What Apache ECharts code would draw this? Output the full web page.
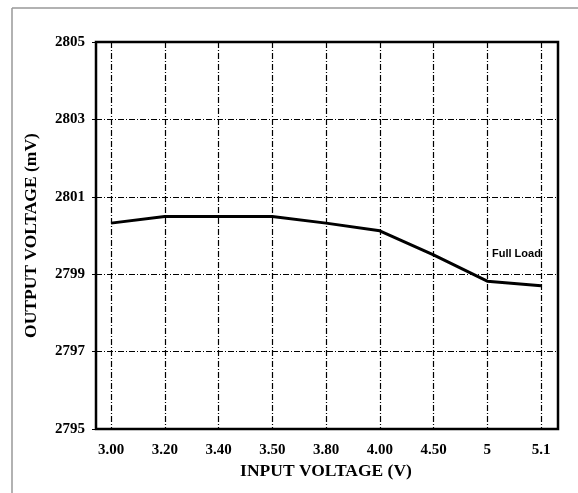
<!DOCTYPE html>
<html>
<head>
<meta charset="utf-8">
<script src="https://cdn.jsdelivr.net/npm/echarts@6/dist/echarts.min.js"></script>
<style>
  html, body { margin: 0; padding: 0; background: #fff; }
  #myChart { width: 578px; height: 493px; }
</style>
</head>
<body>
<div id="myChart"></div>
<script type="text/javascript">
// input voltage categories (V)
var inputVoltage = ['3.00', '3.20', '3.40', '3.50', '3.80', '4.00', '4.50', '5', '5.1']
// output voltage at full load (mV)
var outputVoltage = [2800.32, 2800.49, 2800.49, 2800.49, 2800.32, 2800.12, 2799.5, 2798.82, 2798.7]
var yMin = 2795, yMax = 2805, yStep = 2

var serif = '"Liberation Serif", "Times New Roman", serif'
var gridDash = {
  color: '#000',
  width: 1.2,
  type: [6, 2, 1, 2]
}

let myChart = echarts.init(document.getElementById('myChart'))
myChart.setOption({
  animation: false,
  backgroundColor: '#fff',
  graphic: [
    { type: 'line', shape: { x1: 12, y1: 8, x2: 578, y2: 8 }, style: { stroke: '#999', lineWidth: 1.5 } },
    { type: 'line', shape: { x1: 12, y1: 8, x2: 12, y2: 493 }, style: { stroke: '#999', lineWidth: 1.5 } },
    {
      type: 'text', left: 492, top: 248,
      style: { text: 'Full Load', font: 'bold 11px "Liberation Sans", Arial, sans-serif', fill: '#000' }
    }
  ],
  grid: [
    // outer frame with horizontal grid lines
    { left: 96, right: 20, top: 42, bottom: 64, show: true, borderColor: '#000', borderWidth: 2.5, backgroundColor: 'transparent' },
    // data area, inset so the first and last voltage sit inside the frame
    { left: 111, right: 37, top: 42, bottom: 64 }
  ],
  xAxis: [
    { gridIndex: 0, type: 'value', min: 0, max: 1, show: false },
    {
      gridIndex: 1,
      type: 'category',
      boundaryGap: false,
      data: inputVoltage,
      name: 'INPUT VOLTAGE (V)',
      nameLocation: 'middle',
      nameGap: 27,
      nameTextStyle: { fontFamily: serif, fontWeight: 'bold', fontSize: 17.5, color: '#000' },
      axisLine: { show: false },
      axisTick: { show: false },
      axisLabel: { margin: 14, fontFamily: serif, fontWeight: 'bold', fontSize: 15, color: '#000' },
      splitLine: { show: true, lineStyle: gridDash }
    }
  ],
  yAxis: [
    {
      gridIndex: 0,
      type: 'value',
      min: yMin,
      max: yMax,
      interval: yStep,
      name: 'OUTPUT VOLTAGE (mV)',
      nameLocation: 'middle',
      nameGap: 56,
      nameTextStyle: { fontFamily: serif, fontWeight: 'bold', fontSize: 17.5, color: '#000' },
      axisLine: { show: false },
      axisTick: { show: true, length: 4, lineStyle: { color: '#000' } },
      axisLabel: {
        margin: 11, fontFamily: serif, fontWeight: 'bold', fontSize: 15, color: '#000',
        formatter: function (v) { return String(v) }
      },
      splitLine: { show: true, lineStyle: gridDash }
    },
    { gridIndex: 1, type: 'value', min: yMin, max: yMax, show: false }
  ],
  series: [
    {
      type: 'line',
      xAxisIndex: 1,
      yAxisIndex: 1,
      data: outputVoltage,
      symbol: 'none',
      lineStyle: { color: '#000', width: 3 }
    }
  ]
})
</script>
</body>
</html>
